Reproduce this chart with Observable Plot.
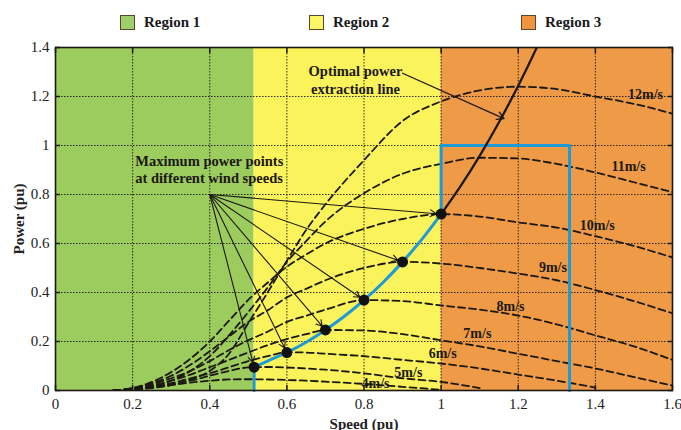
<!DOCTYPE html>
<html><head><meta charset="utf-8">
<script src="https://cdn.jsdelivr.net/npm/d3@7"></script>
<script src="https://cdn.jsdelivr.net/npm/@observablehq/plot@0.6"></script>
<style>
body{margin:0;background:#fff;width:681px;height:430px;overflow:hidden;font-family:"Liberation Serif",serif;}
#legend{position:relative;height:38px;}
.item{position:absolute;top:14px;display:flex;align-items:center;font-weight:bold;font-size:15px;color:#1a1a1a;}
.sw{width:15px;height:15px;border:1px solid #5a4630;margin-right:9px;box-sizing:border-box;}
svg [aria-label="x-axis label"] text, svg [aria-label="y-axis label"] text{font-weight:bold;}
</style></head><body>
<div id="legend"></div><div id="chart"></div>
<script>
// ---- data ----
const regionNames = ["Region 1", "Region 2", "Region 3"];
const regionEdges = [0, 0.515, 1.0, 1.6];
const regionColors = ["#9ccb5e", "#faf35b", "#ee9a46"];
const legendColors = ["#9dd06b", "#fbf665", "#f0953d"];

const xTicks = [0, 0.2, 0.4, 0.6, 0.8, 1.0, 1.2, 1.4, 1.6];
const yTicks = [0, 0.2, 0.4, 0.6, 0.8, 1.0, 1.2, 1.4];

const speedGrid = [0.15,0.2,0.25,0.3,0.35,0.4,0.45,0.5,0.55,0.6,0.65,0.7,0.8,0.9,1.0,1.1,1.2,1.3,1.4,1.5,1.6];
const windSpeeds = ["12m/s","11m/s","10m/s","9m/s","8m/s","7m/s","6m/s","5m/s","4m/s"];
const power12 = [0,0.003,0.01,0.022,0.045,0.08,0.15,0.275,0.40,0.53,0.655,0.76,0.94,1.10,1.18,1.225,1.24,1.23,1.20,1.17,1.13];
const power11 = [0,0.006,0.018,0.04,0.08,0.14,0.225,0.32,0.42,0.525,0.61,0.69,0.805,0.885,0.925,0.95,0.947,0.925,0.89,0.85,0.81];
const power10 = [0,0.01,0.035,0.075,0.13,0.2,0.285,0.37,0.44,0.505,0.555,0.60,0.66,0.70,0.72,0.71,0.686,0.665,0.63,0.59,0.543];
const power9  = [0,0.01,0.03,0.06,0.105,0.16,0.22,0.28,0.327,0.38,0.415,0.45,0.50,0.525,0.518,0.50,0.477,0.45,0.41,0.365,0.315];
const power8  = [0,0.008,0.025,0.05,0.08,0.12,0.165,0.205,0.24,0.28,0.305,0.33,0.369,0.365,0.347,0.33,0.306,0.27,0.225,0.18,0.125];
const power7  = [0,0.007,0.02,0.04,0.065,0.095,0.125,0.155,0.185,0.21,0.23,0.247,0.245,0.23,0.205,0.18,0.15,0.12,0.09,0.055,0.02];
const power6  = [0,0.006,0.015,0.03,0.05,0.07,0.095,0.12,0.14,0.156,0.155,0.15,0.14,0.125,0.11,0.09,0.065,0.04,0.012,null,null];
const power5  = [0,0.005,0.012,0.025,0.04,0.06,0.08,0.094,0.096,0.094,0.09,0.085,0.07,0.05,0.035,0.01,null,null,null,null,null];
const power4  = [0,0.004,0.012,0.022,0.032,0.04,0.045,0.046,0.045,0.043,0.04,0.036,0.027,0.015,0.003,null,null,null,null,null,null];
const powerSeries = [power12, power11, power10, power9, power8, power7, power6, power5, power4];

// curve labels (data coords)
const labelSpeedX = [1.53, 1.486, 1.405, 1.29, 1.18, 1.094, 1.004, 0.915, 0.83];
const labelPowerY = [1.21, 0.914, 0.673, 0.50, 0.343, 0.233, 0.151, 0.073, 0.029];

// maximum power points
const mppSpeed = [0.515, 0.6, 0.7, 0.8, 0.9, 1.0];
const mppPower = [0.095, 0.155, 0.247, 0.369, 0.525, 0.72];

// blue operating trajectory
const trackSpeed = [0.515,0.55,0.6,0.65,0.7,0.75,0.8,0.85,0.9,0.95,1.0];
const trackPower = [0.095,0.12,0.155,0.197,0.247,0.304,0.369,0.442,0.525,0.617,0.72];
const limitSpeed = [[0.515,0.515],[1.0,1.0,1.333,1.333]];
const limitPower = [[0,0.095],[0.72,1.0,1.0,0]];

// optimal power extraction line (black)
const optSpeed = [1.0,1.05,1.1,1.15,1.2,1.25,1.3];
const optPower = [0.72,0.833,0.958,1.095,1.244,1.406,1.58];

// annotations
const mppNote = {x: 0.207, y: 0.904, text: "Maximum power points\nat different wind speeds"};
const mppArrowFrom = {x: 0.4, y: 0.8};
const optNote = {x: 0.778, y: 1.269, text: "Optimal power\nextraction line"};
const optArrow = {x1: 0.9, y1: 1.295, x2: 1.163, y2: 1.11};

// ---- build rows ----
const regions = regionNames.map((n, i) => ({name: n, x1: regionEdges[i], x2: regionEdges[i+1], fill: regionColors[i]}));
const curveRows = [];
windSpeeds.forEach((s, k) => speedGrid.forEach((x, i) => {
  const p = powerSeries[k][i];
  if (p !== null) curveRows.push({speed: s, x, p});
}));
const labels = windSpeeds.map((s, i) => ({text: s, x: labelSpeedX[i], y: labelPowerY[i]}));
const mpp = mppSpeed.map((x, i) => ({x, y: mppPower[i]}));
const track = trackSpeed.map((x, i) => ({x, y: trackPower[i]}));
const limits = [];
limitSpeed.forEach((xs, k) => xs.forEach((x, i) => limits.push({seg: k, x, y: limitPower[k][i]})));
const opt = optSpeed.map((x, i) => ({x, y: optPower[i]}));
const fmt = d => String(+d.toFixed(2));

// legend
const legend = document.getElementById("legend");
const legendLeft = [120, 309, 521];
regionNames.forEach((n, i) => {
  const el = document.createElement("div");
  el.className = "item";
  el.style.left = legendLeft[i] + "px";
  el.innerHTML = `<div class="sw" style="background:${legendColors[i]}"></div><span>${n}</span>`;
  legend.appendChild(el);
});

const ink = "#1c1812";
const chart = Plot.plot({
  width: 681, height: 392,
  marginTop: 9, marginBottom: 40, marginLeft: 55, marginRight: 9,
  x: {domain: [0, 1.6]},
  y: {domain: [0, 1.4]},
  style: {fontFamily: "Liberation Serif, serif", fontSize: "15px", color: "#222", background: "transparent", overflow: "visible"},
  marks: [
    Plot.rect(regions, {x1: "x1", x2: "x2", fill: "fill"}),
    Plot.gridX(xTicks, {stroke: ink, strokeOpacity: 0.9, strokeDasharray: "1.5,1.5"}),
    Plot.gridY(yTicks, {stroke: ink, strokeOpacity: 0.9, strokeDasharray: "1.5,1.5"}),
    Plot.line(curveRows, {x: "x", y: "p", z: "speed", curve: "monotone-x", stroke: ink, strokeWidth: 1.8, strokeDasharray: "7,4", clip: true}),
    Plot.line(track, {x: "x", y: "y", curve: "monotone-x", stroke: "#1f9ad8", strokeWidth: 3}),
    Plot.line(limits, {x: "x", y: "y", z: "seg", stroke: "#1f9ad8", strokeWidth: 3}),
    Plot.line(opt, {x: "x", y: "y", curve: "monotone-x", stroke: ink, strokeWidth: 2.3, clip: true}),
    Plot.arrow(mpp, {x1: () => mppArrowFrom.x, y1: () => mppArrowFrom.y, x2: "x", y2: "y", insetEnd: 5, headLength: 9, stroke: ink, strokeWidth: 1.1}),
    Plot.arrow([optArrow], {x1: "x1", y1: "y1", x2: "x2", y2: "y2", headLength: 9, stroke: ink, strokeWidth: 1.3}),
    Plot.dot(mpp, {x: "x", y: "y", r: 5.5, fill: "#111"}),
    Plot.text(labels, {x: "x", y: "y", text: "text", fontWeight: "bold", fontSize: 14, fill: ink}),
    Plot.text([mppNote], {x: "x", y: "y", text: "text", textAnchor: "start", fontWeight: "bold", fontSize: 14.5, lineHeight: 1.2, fill: ink}),
    Plot.text([optNote], {x: "x", y: "y", text: "text", fontWeight: "bold", fontSize: 14.5, lineHeight: 1.25, fill: ink}),
    Plot.frame({stroke: ink, strokeWidth: 1.6}),
    Plot.axisX(xTicks, {tickSize: 0, tickPadding: 8, tickFormat: fmt, label: "Speed (pu)", labelAnchor: "center", labelArrow: "none", labelOffset: 38, fontSize: 15}),
    Plot.axisX(xTicks, {anchor: "bottom", tickSize: -5, tickFormat: () => "", label: null, stroke: ink, strokeWidth: 1.5}),
    Plot.axisX(xTicks, {anchor: "top", tickSize: -5, tickFormat: () => "", label: null, stroke: ink, strokeWidth: 1.5}),
    Plot.axisY(yTicks, {tickSize: 0, tickPadding: 6, tickFormat: fmt, label: "Power (pu)", labelAnchor: "center", labelOffset: 42, labelArrow: "none", fontSize: 15}),
    Plot.axisY(yTicks, {anchor: "left", tickSize: -5, tickFormat: () => "", label: null, stroke: ink, strokeWidth: 1.5}),
    Plot.axisY(yTicks, {anchor: "right", tickSize: -5, tickFormat: () => "", label: null, stroke: ink, strokeWidth: 1.5})
  ]
});
document.getElementById("chart").appendChild(chart);
</script>
</body></html>
